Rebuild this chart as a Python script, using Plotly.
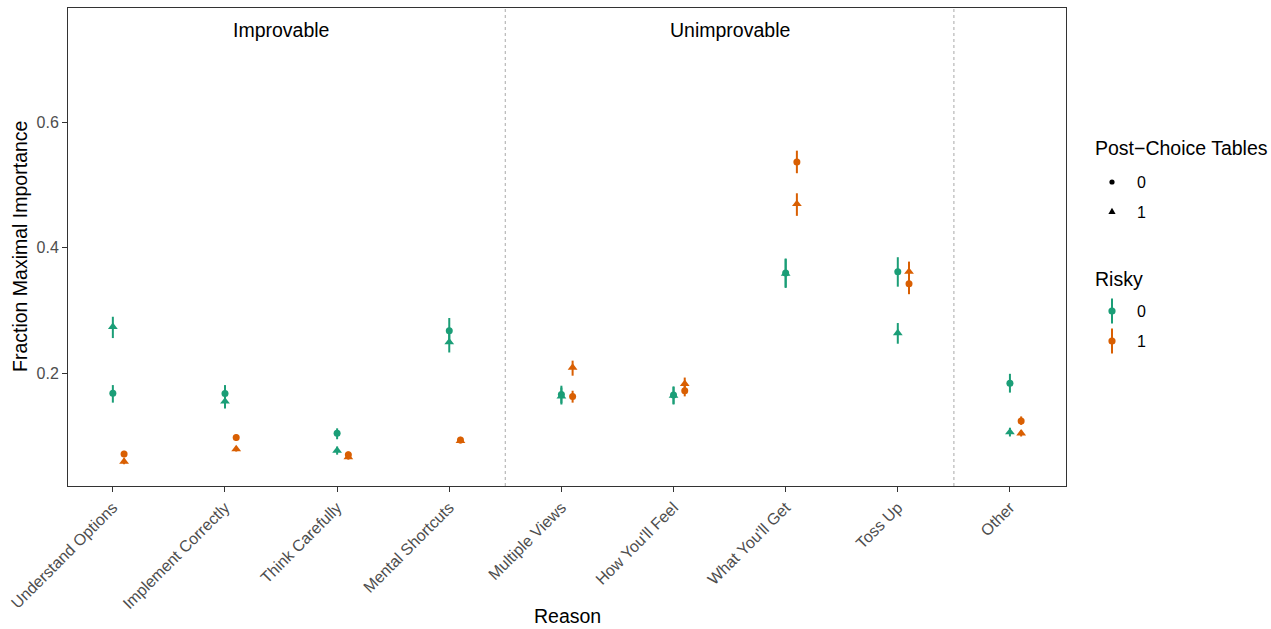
import plotly.graph_objects as go

# Reasons on the x axis (plotted at positions 1..9)
reasons = ["Understand Options", "Implement Correctly", "Think Carefully", "Mental Shortcuts",
           "Multiple Views", "How You'll Feel", "What You'll Get", "Toss Up", "Other"]

# Fraction giving maximal importance, with interval bounds
# risky = 0, post-choice tables = 0
r0_t0 = [0.168, 0.1675, 0.104, 0.2675, 0.166, 0.165, 0.360, 0.362, 0.184]
r0_t0_lo = [0.153, 0.154, 0.0946, 0.247, 0.152, 0.151, 0.337, 0.338, 0.169]
r0_t0_hi = [0.181, 0.181, 0.112, 0.288, 0.180, 0.179, 0.383, 0.385, 0.199]
# risky = 0, post-choice tables = 1
r0_t1 = [0.274, 0.155, 0.0765, 0.2495, 0.163, 0.164, 0.359, 0.264, 0.1058]
r0_t1_lo = [0.256, 0.1436, 0.070, 0.233, 0.150, 0.150, 0.336, 0.247, 0.099]
r0_t1_hi = [0.290, 0.167, 0.083, 0.266, 0.177, 0.178, 0.382, 0.280, 0.113]
# risky = 1, post-choice tables = 0
r1_t0 = [0.0712, 0.0972, 0.070, 0.0935, 0.1627, 0.172, 0.537, 0.3425, 0.1239]
r1_t0_lo = [0.066, 0.092, 0.065, 0.089, 0.153, 0.163, 0.519, 0.326, 0.1175]
r1_t0_hi = [0.076, 0.102, 0.075, 0.098, 0.172, 0.181, 0.555, 0.359, 0.131]
# risky = 1, post-choice tables = 1
r1_t1 = [0.059, 0.079, 0.066, 0.092, 0.209, 0.183, 0.470, 0.362, 0.104]
r1_t1_lo = [0.0547, 0.075, 0.062, 0.088, 0.196, 0.173, 0.451, 0.345, 0.099]
r1_t1_hi = [0.064, 0.083, 0.070, 0.096, 0.220, 0.193, 0.487, 0.378, 0.109]

group_labels = ["Improvable", "Unimprovable"]
group_centers = [2.5, 6.5]
group_dividers = [4.5, 8.5]
y_ticks = [0.2, 0.4, 0.6]

GREEN = "#1B9E77"
ORANGE = "#D95F02"
FONT = "Liberation Sans, Arial, sans-serif"
TITLE_SIZE = 19.5
TEXT_SIZE = 16

fig = go.Figure()

series = [
    (r0_t0, r0_t0_lo, r0_t0_hi, GREEN, "circle", 7, 0.0),
    (r0_t1, r0_t1_lo, r0_t1_hi, GREEN, "triangle-up", 8.5, 0.0),
    (r1_t0, r1_t0_lo, r1_t0_hi, ORANGE, "circle", 7, 0.1),
    (r1_t1, r1_t1_lo, r1_t1_hi, ORANGE, "triangle-up", 8.5, 0.1),
]
for vals, lo, hi, col, sym, size, dodge in series:
    xs = [i + 1 + dodge for i in range(len(reasons))]
    fig.add_trace(go.Scatter(
        x=xs, y=vals, mode="markers",
        marker=dict(color=col, symbol=sym, size=size, line=dict(width=0)),
        error_y=dict(type="data", symmetric=False,
                     array=[h - v for h, v in zip(hi, vals)],
                     arrayminus=[v - l for v, l in zip(vals, lo)],
                     color=col, thickness=2, width=0),
        showlegend=False, hoverinfo="skip",
    ))

# Dotted separators between reason groups
for xd in group_dividers:
    fig.add_shape(type="line", xref="x", yref="paper", x0=xd, x1=xd, y0=0, y1=1,
                  line=dict(color="#BDBDBD", width=1.3, dash="dot"), layer="below")

annotations = []
for lab, xc in zip(group_labels, group_centers):
    annotations.append(dict(x=xc, y=0.747, xref="x", yref="y", text=lab, showarrow=False,
                            xanchor="center", yanchor="middle",
                            font=dict(family=FONT, size=TITLE_SIZE, color="black")))

# Figure-level geometry (pixels) for titles and the legend
L, R, T, B = 68, 205, 8, 143
W, H = 1271, 629
PW, PH = W - L - R, H - T - B


def px(xp):
    return (xp - L) / PW


def py(yp):
    return (H - B - yp) / PH


def label(x, y, text, size, xanchor="left", angle=0):
    return dict(x=px(x), y=py(y), xref="paper", yref="paper", text=text, showarrow=False,
                xanchor=xanchor, yanchor="middle", textangle=angle, borderpad=0,
                font=dict(family=FONT, size=size, color="black"))


annotations.append(label(20, 247, "Fraction Maximal Importance", TITLE_SIZE, "center", -90))
annotations.append(label(567, 616, "Reason", TITLE_SIZE, "center"))

# Legend: Post-Choice Tables (shape)
annotations.append(label(1094, 148, "Post\u2212Choice Tables", TITLE_SIZE))
annotations.append(label(1136, 182, "0", TEXT_SIZE))
annotations.append(label(1136, 212, "1", TEXT_SIZE))
fig.add_shape(type="circle", xref="paper", yref="paper", xsizemode="pixel", ysizemode="pixel",
              xanchor=px(1112), yanchor=py(182), x0=-2.6, x1=2.6, y0=-2.6, y1=2.6,
              fillcolor="black", line=dict(width=0))
fig.add_shape(type="path", xref="paper", yref="paper", xsizemode="pixel", ysizemode="pixel",
              xanchor=px(1112), yanchor=py(212), path="M -3.6,-2.1 L 3.6,-2.1 L 0,4.2 Z",
              fillcolor="black", line=dict(width=0))

# Legend: Risky (colour)
annotations.append(label(1094, 279, "Risky", TITLE_SIZE))
for yy, col, lab in [(311, GREEN, "0"), (341, ORANGE, "1")]:
    annotations.append(label(1136, yy, lab, TEXT_SIZE))
    fig.add_shape(type="line", xref="paper", yref="paper", x0=px(1112), x1=px(1112),
                  y0=py(yy - 12.5), y1=py(yy + 12.5), line=dict(color=col, width=2))
    fig.add_shape(type="circle", xref="paper", yref="paper", xsizemode="pixel", ysizemode="pixel",
                  xanchor=px(1112), yanchor=py(yy), x0=-3.6, x1=3.6, y0=-3.6, y1=3.6,
                  fillcolor=col, line=dict(width=0))

fig.update_layout(
    width=W, height=H,
    margin=dict(l=L, r=R, t=T, b=B),
    paper_bgcolor="white", plot_bgcolor="white",
    showlegend=False,
    annotations=annotations,
    font=dict(family=FONT),
)
fig.update_xaxes(
    range=[0.6, 9.5], tickmode="array", tickvals=list(range(1, len(reasons) + 1)),
    ticktext=reasons, tickangle=-45, showgrid=False, zeroline=False,
    showline=True, mirror=True, linecolor="#333333", linewidth=1,
    ticks="outside", ticklen=5, tickcolor="#333333", tickwidth=1,
    tickfont=dict(family=FONT, size=TEXT_SIZE, color="#4D4D4D"),
)
fig.update_yaxes(
    range=[0.02, 0.7826], tickmode="array", tickvals=y_ticks,
    ticktext=[f"{v:.1f}" for v in y_ticks], showgrid=False, zeroline=False,
    showline=True, mirror=True, linecolor="#333333", linewidth=1,
    ticks="outside", ticklen=5, tickcolor="#333333", tickwidth=1,
    tickfont=dict(family=FONT, size=TEXT_SIZE, color="#4D4D4D"),
)

fig.write_html("out.html")
